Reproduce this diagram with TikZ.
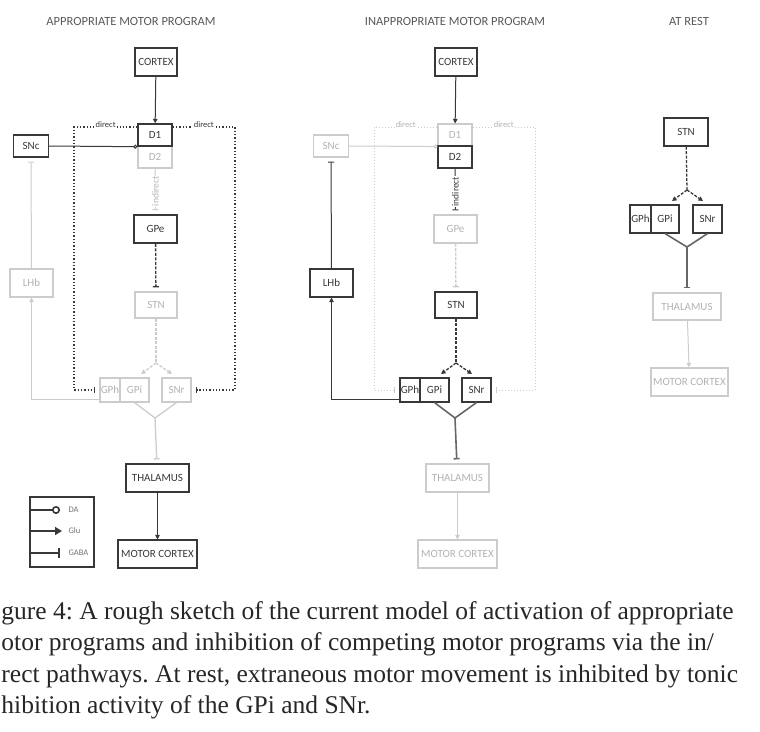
\documentclass[tikz,border=0pt]{standalone}
\usepackage{fontspec}
\setmainfont{Liberation Serif}
\setsansfont{Carlito}
\usepackage{xcolor}
\usetikzlibrary{arrows.meta,calc,positioning}

\colorlet{litc}{black!78}
\colorlet{dimc}{black!20}

\tikzset{
  region/.style={draw, rectangle, inner sep=0pt, line width=1.1pt,
    font=\sffamily\fontsize{11}{12}\selectfont},
  active/.style={draw=litc, text=litc},
  faded/.style={draw=dimc, text=black!30},
  glu/.style={-{Triangle[length=4.5pt,width=4.5pt]}},
  gaba/.style={-{Bar[width=6pt]}, shorten >=4pt},
  da/.style={-{Circle[open,length=4pt]}},
  directpath/.style={dotted, line width=1.3pt},
  dashpath/.style={dash pattern=on 3pt off 1.5pt, line width=1.3pt},
  paneltitle/.style={font=\sffamily\fontsize{12.5}{14}\selectfont, text=black!65},
  pathlabel/.style={font=\sffamily\fontsize{8.5}{9}\selectfont, inner sep=1pt, fill=white},
  legendtext/.style={font=\sffamily\fontsize{8.5}{9}\selectfont, text=black!55, anchor=west, inner sep=0pt},
  captionline/.style={font=\fontsize{25.5}{30}\selectfont\frenchspacing, text=black!85, anchor=base west, inner sep=0pt},
}

\begin{document}
\begin{tikzpicture}[x=1pt, y=-1pt, line width=1pt]
\useasboundingbox (0,0) rectangle (760,731);

  % ----------------------
  % Titles
  % ----------------------
  \node[paneltitle] (titleA) at (131,21) {APPROPRIATE MOTOR PROGRAM};
  \node[paneltitle] (titleB) at (455,21) {INAPPROPRIATE MOTOR PROGRAM};
  \node[paneltitle] (titleC) at (689,21) {AT REST};

  % ----------------------
  % Panel A: appropriate motor program
  % ----------------------
  \node[region, active, minimum width=42pt, minimum height=28pt] (cortexA) at (156,62) {CORTEX};
  \node[region, faded, minimum width=34pt, minimum height=22pt] (d2A) at (155,157) {D2};
  \node[region, active, line width=1.4pt, minimum width=34pt, minimum height=22pt] (d1A) at (155,135) {D1};
  \node[region, active, minimum width=35pt, minimum height=22pt] (sncA) at (31,146) {SNc};
  \node[region, active, line width=1.8pt, minimum width=43pt, minimum height=28pt] (gpeA) at (155.5,229) {GPe};
  \node[region, faded, minimum width=42pt, minimum height=26pt] (stnA) at (156,305) {STN};
  \node[region, faded, minimum width=20pt, minimum height=24pt] (gphA) at (110,390) {GPh};
  \node[region, faded, minimum width=29pt, minimum height=24pt] (gpiA) at (134.5,390) {GPi};
  \node[region, faded, minimum width=29pt, minimum height=24pt] (snrA) at (176.5,390) {SNr};
  \node[region, faded, minimum width=43pt, minimum height=28pt] (lhbA) at (31.5,283) {LHb};
  \node[region, active, minimum width=63pt, minimum height=28pt] (thalA) at (157.5,478) {THALAMUS};
  \node[region, active, minimum width=79pt, minimum height=28pt] (mctxA) at (157.5,554) {MOTOR CORTEX};

  \coordinate (dirLA) at (74,127);   % direct loop, left corner
  \coordinate (dirRA) at (235,127);  % direct loop, right corner
  \coordinate (forkA) at (156,363);  % STN split
  \coordinate (toGpiA) at (141,374);
  \coordinate (toSnrA) at (172,374);
  \coordinate (outA) at (155,418);   % GPi/SNr merge

  \draw[glu, litc] (cortexA) -- (d1A);
  \draw[da, litc] (sncA.east) -- (d1A.south west);
  \draw[directpath, litc, gaba] (d1A.west |- dirLA) -- node[pathlabel, yshift=2pt, text=litc] {direct} (dirLA) -- (dirLA |- gphA.west) -- (gphA.west);
  \draw[directpath, litc, gaba] (d1A.east |- dirRA) -- node[pathlabel, yshift=2pt, text=litc] {direct} (dirRA) -- (dirRA |- snrA.east) -- (snrA.east);
  \draw[gaba, dimc] (d2A) -- node[pathlabel, rotate=90, text=black!30, font=\sffamily\fontsize{9.5}{10}\selectfont] {indirect} (gpeA);
  \draw[dashpath, gaba, litc] (gpeA) -- (stnA);
  \draw[dashpath, dimc] (stnA) -- (forkA);
  \draw[dashpath, dimc, glu] (forkA) -- (toGpiA);
  \draw[dashpath, dimc, glu] (forkA) -- (toSnrA);
  \draw[dimc, line width=1.3pt] (gpiA.south) -- (outA) -- (snrA.south);
  \draw[dimc, line width=1.3pt, gaba] (outA) -- (thalA);
  \draw[glu, litc] (thalA) -- (mctxA);
  \draw[glu, dimc] ($(gphA.south west)+(0,-3)$) -| (lhbA.south);
  \draw[gaba, dimc] (lhbA) -- (sncA);

  % ----------------------
  % Legend
  % ----------------------
  \node[draw=litc, line width=1.1pt, minimum width=64pt, minimum height=70pt, inner sep=0pt] (legend) at (62,532) {};
  \coordinate (daTip) at (60,510);
  \coordinate (gluTip) at (62,531);
  \coordinate (gabaTip) at (60,553);
  \draw[litc, line width=1.6pt, -{Circle[open, length=8pt]}] (legend.west |- daTip) -- (daTip);
  \draw[litc, line width=1.6pt, -{Triangle[length=7pt,width=8pt]}] (legend.west |- gluTip) -- (gluTip);
  \draw[litc, line width=1.6pt, -{Bar[width=10pt]}] (legend.west |- gabaTip) -- (gabaTip);
  \node[legendtext] (daText) at (68,510) {DA};
  \node[legendtext] (gluText) at (68,531) {Glu};
  \node[legendtext] (gabaText) at (68,553) {GABA};

  % ----------------------
  % Panel B: inappropriate motor program (same layout, shifted)
  % ----------------------
  \begin{scope}[xshift=300pt]
  \node[region, active, minimum width=42pt, minimum height=28pt] (cortexB) at (156,62) {CORTEX};
  \node[region, faded, minimum width=34pt, minimum height=22pt] (d1B) at (155,135) {D1};
  \node[region, active, line width=1.4pt, minimum width=34pt, minimum height=22pt] (d2B) at (155,157) {D2};
  \node[region, faded, minimum width=35pt, minimum height=22pt] (sncB) at (31,146) {SNc};
  \node[region, faded, minimum width=43pt, minimum height=28pt] (gpeB) at (155.5,229) {GPe};
  \node[region, active, minimum width=42pt, minimum height=26pt] (stnB) at (156,305) {STN};
  \node[region, active, minimum width=29pt, minimum height=24pt] (gpiB) at (134.5,390) {GPi};
  \node[region, active, minimum width=20pt, minimum height=24pt] (gphB) at (110,390) {GPh};
  \node[region, active, minimum width=29pt, minimum height=24pt] (snrB) at (176.5,390) {SNr};
  \node[region, active, minimum width=43pt, minimum height=28pt] (lhbB) at (31.5,283) {LHb};
  \node[region, faded, minimum width=63pt, minimum height=28pt] (thalB) at (157.5,478) {THALAMUS};
  \node[region, faded, minimum width=79pt, minimum height=28pt] (mctxB) at (157.5,554) {MOTOR CORTEX};

  \coordinate (dirLB) at (74,127);
  \coordinate (dirRB) at (235,127);
  \coordinate (forkB) at (156,363);
  \coordinate (toGpiB) at (141,374);
  \coordinate (toSnrB) at (172,374);
  \coordinate (outB) at (155,418);

  \draw[glu, litc] (cortexB) -- (d1B);
  \draw[da, dimc] (sncB.east) -- (d1B.south west);
  \draw[directpath, dimc, line width=1pt, gaba] (d1B.west |- dirLB) -- node[pathlabel, yshift=2pt, text=black!30] {direct} (dirLB) -- (dirLB |- gphB.west) -- (gphB.west);
  \draw[directpath, dimc, line width=1pt, gaba] (d1B.east |- dirRB) -- node[pathlabel, yshift=2pt, text=black!30] {direct} (dirRB) -- (dirRB |- snrB.east) -- (snrB.east);
  \draw[gaba, litc] (d2B) -- node[pathlabel, rotate=90, text=litc, font=\sffamily\fontsize{9.5}{10}\selectfont] {indirect} (gpeB);
  \draw[dashpath, gaba, dimc] (gpeB) -- (stnB);
  \draw[dashpath, litc] (stnB) -- (forkB);
  \draw[dashpath, litc, glu] (forkB) -- (toGpiB);
  \draw[dashpath, litc, glu] (forkB) -- (toSnrB);
  \draw[black!60, line width=1.6pt] (gpiB.south) -- (outB) -- (snrB.south);
  \draw[black!60, line width=1.6pt, gaba] (outB) -- (thalB);
  \draw[glu, dimc] (thalB) -- (mctxB);
  \draw[glu, litc] ($(gphB.south west)+(0,-3)$) -| (lhbB.south);
  \draw[gaba, litc] (lhbB) -- (sncB);
  \end{scope}

  % ----------------------
  % Panel C: at rest
  % ----------------------
  \node[region, active, minimum width=44pt, minimum height=28pt] (stnC) at (686,132) {STN};
  \node[region, active, minimum width=28pt, minimum height=28pt] (gpiC) at (665,219) {GPi};
  \node[region, active, minimum width=21pt, minimum height=28pt] (gphC) at (640.5,219) {GPh};
  \node[region, active, minimum width=29pt, minimum height=28pt] (snrC) at (707.5,219) {SNr};
  \node[region, faded, minimum width=68pt, minimum height=27pt] (thalC) at (687,306.5) {THALAMUS};
  \node[region, faded, minimum width=77pt, minimum height=28pt] (mctxC) at (689.5,382) {MOTOR CORTEX};

  \coordinate (forkC) at (687,190);
  \coordinate (toGpiC) at (672,201);
  \coordinate (toSnrC) at (703,201);
  \coordinate (outC) at (687,247);

  \draw[dashpath, litc] (stnC) -- (forkC);
  \draw[dashpath, litc, glu] (forkC) -- (toGpiC);
  \draw[dashpath, litc, glu] (forkC) -- (toSnrC);
  \draw[black!60, line width=1.6pt] (gpiC.south) -- (outC) -- (snrC.south);
  \draw[black!60, line width=1.6pt, gaba] (outC) -- (thalC);
  \draw[glu, dimc] (thalC) -- (mctxC);

  % ----------------------
  % Caption (cut at the left edge, as printed)
  % ----------------------
  \node[captionline] (capA) at (1,619) {gure 4: A rough sketch of the current model of activation of appropriate};
  \node[captionline] (capB) at (1,650.5) {otor programs and inhibition of competing motor programs via the in/};
  \node[captionline] (capC) at (1,682) {rect pathways. At rest, extraneous motor movement is inhibited by tonic};
  \node[captionline] (capD) at (1,713) {hibition activity of the GPi and SNr.};

\end{tikzpicture}
\end{document}
